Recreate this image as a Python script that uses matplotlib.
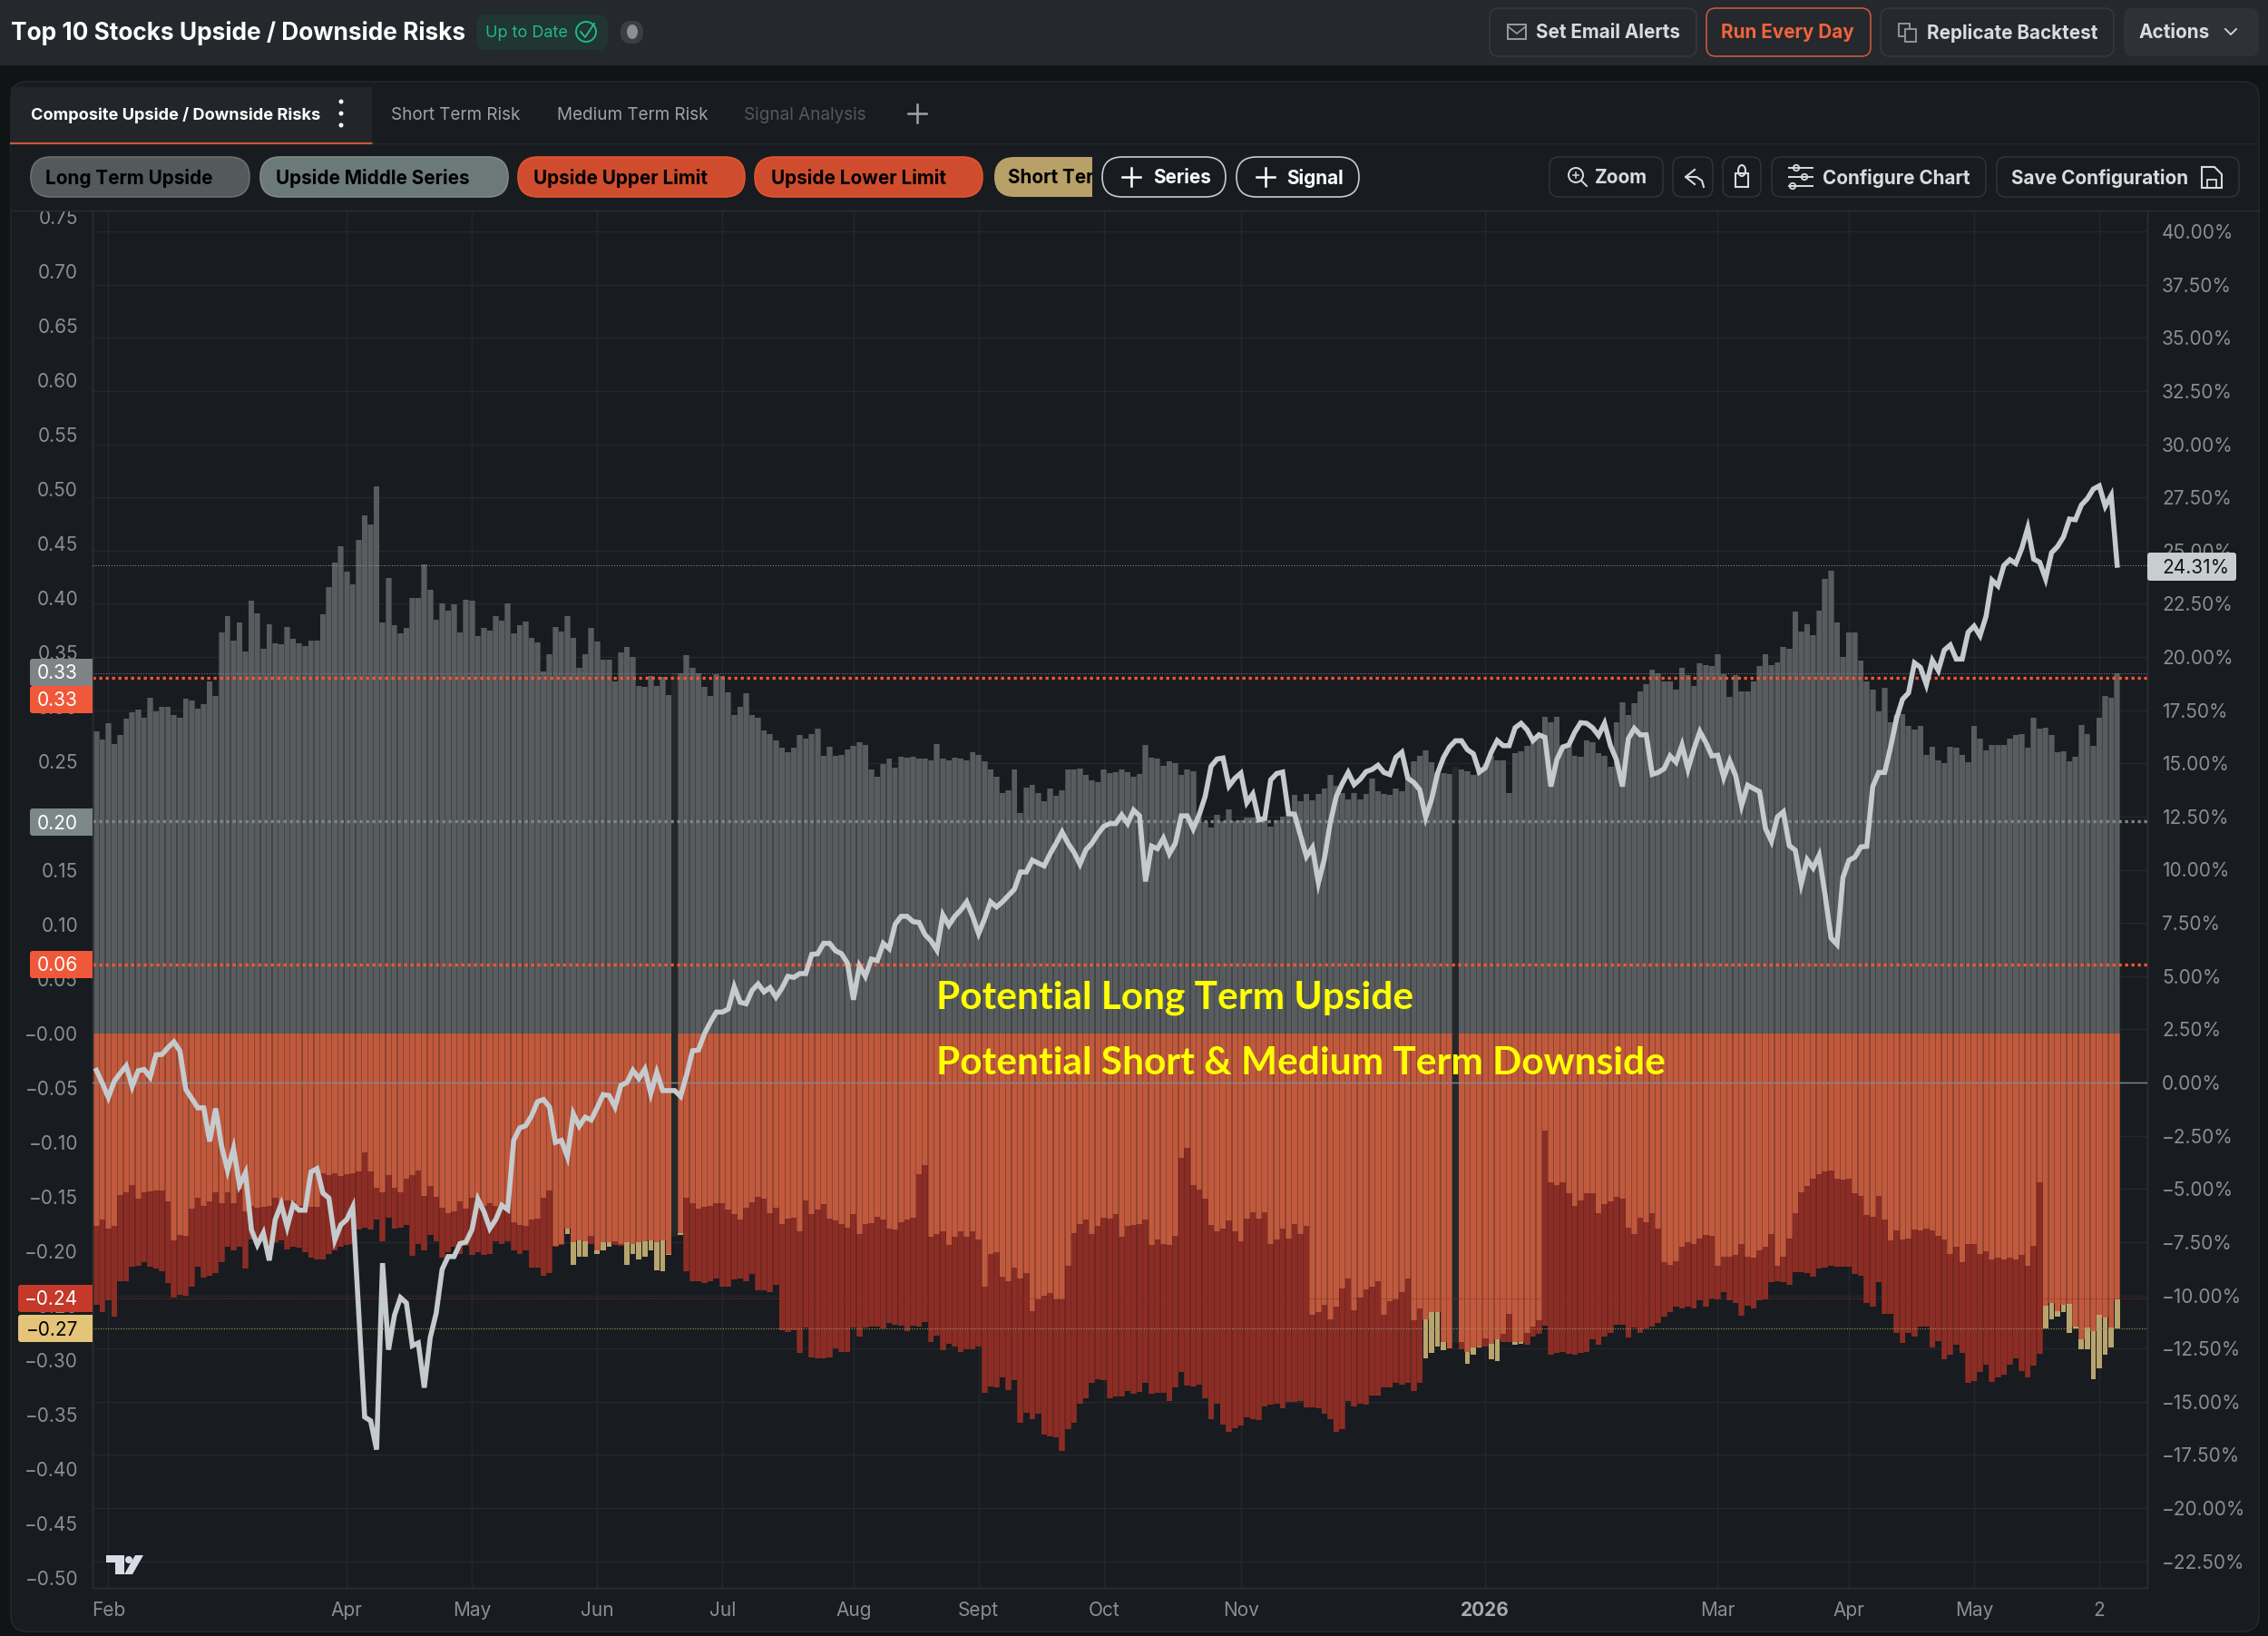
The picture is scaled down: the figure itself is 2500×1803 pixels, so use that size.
import numpy as np
import matplotlib
matplotlib.use('Agg')
import matplotlib.pyplot as plt
from matplotlib.patches import FancyBboxPatch, Rectangle, Circle, Polygon, Ellipse

plt.rcParams['font.family'] = ['Inter', 'DejaVu Sans']

# left axis, grey bars (nan = missing day)
upside_top = [
    .277,.270,.285,.266,.274,.289,.295,.297,.290,.308,.296,.300,.300,.292,.290,.307,.306,.298,.302,.323,
    .310,.368,.383,.361,.377,.351,.397,.386,.353,.376,.358,.357,.373,.362,.358,.356,.361,.361,.385,.410,
    .432,.447,.424,.412,.453,.476,.467,.502,.377,.418,.375,.367,.372,.400,.400,.431,.407,.380,.395,.388,
    .394,.368,.398,.397,.365,.372,.370,.383,.379,.395,.367,.375,.378,.363,.359,.332,.348,.373,.369,.383,
    .363,.336,.348,.372,.360,.343,.343,.323,.350,.355,.346,.319,.318,.328,.319,.327,.311,np.nan,
    .331,.347,.336,.331,.318,.310,.330,.328,
    .313,.292,.300,.312,.292,.290,.278,.275,.269,.262,.258,.262,.274,.271,.275,.280,.255,.263,.255,.256,
    .261,.264,.267,.265,.242,.236,.247,.252,.244,.254,.253,.254,.252,.252,.251,.266,.252,.251,.253,.252,
    .251,.258,.256,.250,.242,.236,.221,.223,.242,.202,.226,.228,.221,.213,.225,.218,.223,.242,.242,.243,
    .237,.232,.231,.242,.239,.240,.242,.240,.236,.238,.265,.253,.252,.246,.250,.248,.237,.242,.241,.198,
    .194,.189,.201,.195,.206,.195,.196,.198,.198,.196,.198,.190,.196,.199,.201,.219,.213,.220,.214,.220,
    .225,.237,.227,.221,.215,.221,.215,.220,.234,.222,.220,.219,.225,.222,.237,.250,.255,.260,.249,.240,
    .239,.238,np.nan,
    .242,.241,.237,.242,.247,.255,
    .251,.251,.221,.257,.259,.264,.269,.274,.291,.286,.291,.264,.264,.255,.254,.269,.267,.257,.255,.245,
    .286,.304,.292,.303,.314,.321,.334,.331,.323,.323,.316,.336,.329,.319,.340,.338,.337,.348,.330,.309,
    .329,.314,.314,.323,.337,.348,.338,.341,.355,.353,.387,.369,.376,.366,.388,.417,.425,.377,.346,.368,
    .368,.342,.323,.316,.296,.317,.286,.292,.293,.282,.279,.282,.256,.263,.251,.248,.263,.262,.256,.249,
    .282,.271,.260,.265,.265,.265,.271,.274,.275,.262,.290,.280,.281,.274,.258,.259,.250,.254,.283,.275,
    .264,.290,.310,.308,.331]

# left axis, depth where the orange bar stops
orange_depth = [
    .177,.171,.179,.177,.148,.146,.139,.152,.146,.145,.144,.144,.154,.190,.185,.186,.161,.151,.158,.154,
    .146,.156,.146,.156,.143,.163,.158,.160,.159,.158,.151,.158,.153,.154,.158,.158,.159,.159,.128,.130,
    .128,.131,.129,.128,.127,.109,.127,.142,.146,.130,.142,.146,.133,.130,.126,.149,.140,.150,.160,.165,
    .163,.154,.161,.151,.158,.158,.156,.158,.158,.157,.173,.176,.177,.171,.170,.151,.144,.195,.193,.179,
    .192,.190,.191,.186,.199,.192,.192,.191,.193,.192,.193,.192,.191,.190,.192,.190,.202,np.nan,
    .183,.151,.156,.161,.159,.158,.156,.156,
    .162,.166,.171,.160,.155,.150,.152,.165,.160,.175,.170,.169,.182,.153,.166,.162,.157,.170,.172,.175,
    .178,.166,.184,.175,.174,.168,.171,.179,.180,.173,.171,.169,.129,.121,.187,.184,.182,.194,.187,.182,
    .187,.182,.189,.232,.202,.201,.223,.227,.215,.225,.220,.255,.244,.241,.238,.244,.244,.213,.183,.175,
    .171,.184,.177,.169,.170,.166,.187,.177,.176,.175,.171,.194,.189,.193,.194,.186,.114,.105,.139,.143,
    .152,.176,.182,.179,.172,.182,.191,.170,.164,.170,.164,.193,.189,.179,.188,.175,.184,.177,.258,.256,
    .249,.262,.251,.234,.225,.254,.242,.235,.232,.227,.258,.246,.244,.237,.225,.263,.252,.262,.256,.256,
    .283,.289,np.nan,
    .283,.292,.288,.287,.280,.285,
    .281,.276,.257,.283,.283,.275,.269,.263,.089,.137,.139,.137,.147,.158,.153,.147,.147,.165,.157,.154,
    .150,.152,.178,.184,.169,.173,.165,.179,.210,.212,.209,.196,.192,.193,.188,.185,.186,.213,.205,.205,
    .203,.193,.205,.206,.199,.196,.184,.213,.205,.188,.165,.146,.140,.133,.129,.127,.126,.133,.134,.133,
    .147,.149,.167,.168,.149,.171,.190,.181,.189,.188,.180,.181,.179,.181,.186,.189,.202,.196,.210,.193,
    .193,.202,.200,.207,.206,.207,.206,.207,.203,.213,.195,.137,.250,.247,.255,.249,.248,.269,.281,.270,
    .273,.258,.261,.270,.244]

# left axis, depth where the dark red / tan part stops
lower_depth = [
    .249,.256,.245,.260,.227,.227,.214,.213,.210,.214,.216,.218,.229,.242,.240,.241,.232,.214,.224,.222,
    .220,.210,.196,.199,.196,.216,.189,.194,.188,.193,.192,.190,.198,.196,.197,.201,.206,.207,.207,.202,
    .199,.196,.194,.193,.180,.178,.180,.171,.191,.169,.179,.178,.176,.204,.193,.199,.185,.191,.206,.201,
    .196,.202,.195,.203,.201,.203,.202,.191,.193,.191,.199,.202,.199,.215,.215,.222,.220,.196,.194,.184,
    .212,.205,.205,.193,.202,.199,.196,.194,.195,.212,.202,.207,.205,.199,.217,.218,.203,np.nan,
    .185,.218,.227,.227,.229,.227,.225,.232,
    .232,.226,.225,.227,.221,.236,.236,.237,.231,.272,.274,.272,.293,.270,.297,.298,.298,.297,.289,.292,
    .292,.270,.278,.270,.269,.269,.271,.266,.267,.268,.273,.268,.269,.265,.283,.277,.291,.285,.287,.292,
    .290,.290,.287,.330,.324,.325,.316,.327,.318,.357,.348,.354,.349,.368,.370,.371,.383,.363,.357,.340,
    .335,.321,.317,.318,.335,.333,.333,.328,.331,.329,.321,.331,.330,.330,.337,.325,.311,.323,.324,.322,
    .335,.354,.340,.359,.366,.362,.360,.352,.354,.355,.342,.341,.340,.344,.338,.338,.337,.343,.343,.344,
    .349,.354,.366,.363,.337,.342,.340,.341,.332,.332,.325,.325,.321,.322,.321,.328,.321,.298,.293,.287,
    .291,.289,np.nan,
    .290,.303,.295,.288,.287,.299,
    .301,.283,.283,.286,.285,.286,.278,.276,.268,.295,.293,.292,.294,.295,.293,.292,.281,.286,.278,.275,
    .267,.267,.279,.270,.275,.271,.269,.266,.260,.256,.251,.252,.251,.252,.245,.251,.243,.244,.237,.245,
    .247,.259,.250,.252,.245,.244,.228,.227,.228,.231,.219,.219,.220,.223,.216,.215,.213,.214,.214,.214,
    .221,.222,.247,.251,.228,.257,.257,.275,.284,.275,.278,.269,.269,.288,.282,.299,.295,.286,.293,.321,
    .319,.311,.304,.320,.316,.313,.304,.298,.310,.316,.305,.294,.271,.262,.260,.256,.275,.271,.290,.290,
    .317,.307,.295,.288,.271]

# bars whose lower part is tan
tan_bars = [79,80,81,82,84,85,86,89,90,91,92,93,94,95,96,98,223,224,225,226,227,230,231,232,234,
            235,238,239] + list(range(327, 340))

# missing days, drawn as a plain dark band
gap_days = [97, 228]
gap_top = [.331, .245]
gap_low = [.187, .284]

# right axis, percent
long_term_pct = [
    .57,-.04,-.70,.06,.44,.78,-.19,.55,.61,.25,1.30,1.32,1.64,1.91,1.49,-.33,-.75,-1.19,-1.19,-2.77,
    -1.22,-3.00,-4.13,-3.10,-4.82,-4.24,-6.92,-7.63,-7.07,-8.36,-6.44,-5.72,-6.79,-5.74,-6.00,-6.00,-4.20,-4.05,-5.20,-5.43,
    -7.40,-6.69,-6.44,-5.85,-10.75,-15.72,-15.90,-17.25,-8.49,-12.56,-10.94,-10.11,-10.36,-12.37,-12.24,-14.34,-11.99,-10.84,-8.78,-8.18,
    -8.18,-7.57,-7.50,-6.92,-5.49,-6.06,-6.86,-6.44,-5.77,-5.97,-2.72,-2.14,-2.03,-1.57,-.90,-.80,-1.15,-2.81,-2.72,-3.48,
    -1.47,-2.05,-1.63,-1.76,-1.19,-.57,-.61,-1.15,-.13,0.0,.57,.19,.63,-.52,.48,-.38,-.38,-.38,-.65,.34,
    1.49,1.53,2.29,2.83,3.31,3.31,
    3.45,4.50,3.77,3.70,4.33,4.63,4.26,4.46,4.01,4.43,4.99,4.94,5.12,5.12,6.02,6.05,6.54,6.54,6.19,6.05,
    5.61,3.89,5.48,4.99,5.80,5.73,6.54,6.29,7.44,7.81,7.81,7.56,7.52,6.95,6.66,6.22,7.88,7.39,7.81,8.10,
    8.49,7.81,7.00,7.69,8.49,8.25,8.49,8.79,9.08,9.89,9.89,10.45,10.31,10.18,10.75,11.24,11.77,11.24,10.82,10.26,
    10.94,11.24,11.68,12.04,12.17,12.17,12.58,12.17,12.80,12.53,9.45,11.11,10.99,11.48,10.75,11.24,12.53,12.53,11.92,12.58,
    13.44,14.86,15.20,15.25,13.93,14.30,14.54,13.15,13.56,12.34,12.41,14.22,14.52,14.59,12.63,12.61,11.60,10.62,11.04,9.38,
    10.50,12.22,13.44,14.05,14.57,14.00,14.25,14.61,14.71,14.91,14.57,14.47,15.28,15.52,14.30,14.10,13.76,12.46,13.32,14.54,
    15.28,15.77,16.06,16.06,15.64,15.45,14.59,14.79,15.52,
    16.07,15.83,15.83,16.67,16.88,16.58,16.07,16.34,16.22,13.91,15.17,15.77,15.86,16.46,16.91,16.88,16.67,16.31,16.88,15.83,
    15.17,13.91,16.16,16.64,16.34,16.34,14.48,14.57,14.75,15.35,15.05,15.86,14.72,15.68,16.49,15.98,15.35,15.38,14.33,15.11,
    14.42,13.02,13.97,13.82,13.67,11.94,11.34,12.48,12.72,11.13,10.92,9.34,10.47,10.08,10.68,8.83,6.79,6.49,9.63,10.44,
    10.59,11.07,11.10,13.91,14.57,14.57,15.77,17.12,18.01,18.31,19.72,19.51,18.70,19.84,19.36,20.32,20.56,19.90,19.90,21.16,
    21.45,21.00,21.90,23.61,23.34,24.30,24.57,24.39,25.10,26.06,24.60,24.45,23.67,24.90,25.19,25.64,26.48,26.45,27.14,27.44,
    27.89,28.04,27.08,27.59,24.31]

month_days = [2, 42, 63, 84, 105, 127, 148, 169, 192, 233, 272, 294, 315, 336]
month_labels = ['Feb', 'Apr', 'May', 'Jun', 'Jul', 'Aug', 'Sept', 'Oct', 'Nov', '2026', 'Mar', 'Apr', 'May', '2']

left_ticks = [.75,.70,.65,.60,.55,.50,.45,.40,.35,.30,.25,.20,.15,.10,.05,0,-.05,-.10,-.15,-.20,-.25,-.30,-.35,-.40,-.45,-.50]
right_ticks = [40,37.5,35,32.5,30,27.5,25,22.5,20,17.5,15,12.5,10,7.5,5,2.5,0,-2.5,-5,-7.5,-10,-12.5,-15,-17.5,-20,-22.5]

upper_limit = .3265
lower_limit = .0633
middle_series = .195
long_term_level = .331
red_level = -.243
tan_level = -.271
last_pct = 24.31

W, H = 2500, 1803
BG = '#101415'
PANEL = '#181b1f'
HEADER = '#25282d'
PLOT_L, PLOT_R, PLOT_T, PLOT_B = 102, 2367, 232, 1750
GRID = '#24282c'
TICK = '#8b8e91'

top = np.array(upside_top)
orange = np.array(orange_depth)
lower = np.array(lower_depth)
days = np.arange(len(top))
is_tan = np.isin(days, tan_bars)

fig = plt.figure(figsize=(W / 100, H / 100), dpi=100, facecolor=BG)
pos = [PLOT_L / W, 1 - PLOT_B / H, (PLOT_R - PLOT_L) / W, (PLOT_B - PLOT_T) / H]

pitch = (2337 - 103) / len(top)
x_range = (-0.5 - 1 / pitch, -0.5 + (PLOT_R - 103) / pitch)
pct_range = ((1193 - PLOT_B) / 23.45, (1193 - PLOT_T) / 23.45)

# the horizontal grid follows the right axis but has to stay under the bars
under = fig.add_axes(pos, facecolor=PANEL, zorder=1)
under.set_xlim(x_range)
under.set_ylim(pct_range)
under.set_xticks(month_days)
under.set_yticks(right_ticks)
under.grid(color=GRID, lw=1)
under.tick_params(length=0, labelleft=False, labelbottom=False)

ax = fig.add_axes(pos, zorder=2)
ax.patch.set_visible(False)
ax2 = ax.twinx()
ax2.set_zorder(3)
ax2.patch.set_visible(False)

ax.set_xlim(x_range)
ax.set_ylim((1139 - PLOT_B) / 1200.5, (1139 - PLOT_T) / 1200.5)
ax2.set_ylim(pct_range)

# bars: a full width darker one under a narrower face gives the thin separators
ax.bar(days, top, width=1.0, color='#414548', linewidth=0, zorder=3)
ax.bar(days, top, width=0.8, color='#585c5e', linewidth=0, zorder=3)
ax.bar(days, -orange, width=1.0, color='#8f4632', linewidth=0, zorder=3)
ax.bar(days, -orange, width=0.8, color='#c1593d', linewidth=0, zorder=3)
red_height = -(lower - orange)
ax.bar(days[~is_tan], red_height[~is_tan], bottom=-orange[~is_tan], width=1.0, color='#6f2620', linewidth=0, zorder=3)
ax.bar(days[~is_tan], red_height[~is_tan], bottom=-orange[~is_tan], width=0.8, color='#8b2d25', linewidth=0, zorder=3)
ax.bar(days[is_tan], red_height[is_tan], bottom=-orange[is_tan], width=0.85, color='#b9a46e', linewidth=0, zorder=3)
ax.bar(gap_days, np.array(gap_top) + np.array(gap_low), bottom=-np.array(gap_low), width=1.0, color='#25282b', linewidth=0, zorder=3)

dots = (0, (1, 1.1))
ax.axhline(upper_limit, color='#f4562f', lw=2.4, ls=dots, zorder=4)
ax.axhline(lower_limit, color='#f4562f', lw=2.4, ls=dots, zorder=4)
ax.axhline(middle_series, color='#7b8887', lw=2.4, ls=dots, zorder=4)
ax.axhline(long_term_level, color='#8a8d90', lw=0.7, ls=(0, (1, 2)), zorder=4)
ax.axhline(red_level, color='#8e2f27', lw=0.8, ls=(0, (1, 1.5)), zorder=4)
ax.axhline(tan_level, color='#a8935f', lw=0.8, ls=(0, (1, 1.5)), zorder=4)

ax2.axhline(0, color='#85898c', lw=1.0, zorder=4)
ax2.axhline(last_pct, color='#a0a3a6', lw=0.7, ls=(0, (1, 2)), zorder=4)
ax2.plot(np.arange(len(long_term_pct)), long_term_pct, color='#c5cacd', lw=4, solid_joinstyle='miter', zorder=5)

ax.set_xticks(month_days)
ax.set_xticklabels(month_labels, fontsize=15, color=TICK)
for lab in ax.get_xticklabels():
    if lab.get_text() == '2026':
        lab.set_fontweight('bold')
        lab.set_color('#a8abae')
ax2.set_yticks(right_ticks)
ax2.set_yticklabels([('\u2212' if t < 0 else '') + '%.2f%%' % abs(t) for t in right_ticks], fontsize=15, color=TICK)
ax.set_yticks(left_ticks)
ax.set_yticklabels([('\u2212' if t <= 0 else '') + '%.2f' % abs(t) for t in left_ticks], fontsize=15, color=TICK)
ax.tick_params(axis='both', length=0)
ax.tick_params(axis='y', pad=11.5)
ax.tick_params(axis='x', pad=10.5)
ax2.tick_params(axis='y', length=0, pad=11.5)
for a in (under, ax, ax2):
    for s in a.spines.values():
        s.set_color('#2a2e32')
        s.set_linewidth(1)

# everything around the chart is drawn on a pixel sized overlay
bg = fig.add_axes([0, 0, 1, 1], zorder=0)
bg.set_xlim(0, W)
bg.set_ylim(H, 0)
bg.axis('off')
ui = fig.add_axes([0, 0, 1, 1], zorder=5)
ui.set_xlim(0, W)
ui.set_ylim(H, 0)
ui.axis('off')


def box(a, x0, y0, x1, y1, fc, ec='none', r=10, lw=1.2):
    p = FancyBboxPatch((x0, y0), x1 - x0, y1 - y0, boxstyle='round,pad=0,rounding_size=%d' % r, fc=fc, ec=ec, lw=lw)
    a.add_patch(p)
    return p


def plus(x, y, s, color, lw=1.8):
    ui.plot([x - s, x + s], [y, y], color=color, lw=lw)
    ui.plot([x, x], [y - s, y + s], color=color, lw=lw)


def txt(x, y, s, color=None, size=14.9, bold=True, **kw):
    return ui.text(x, y + 1.5, s, color=color, fontsize=size, fontweight='bold' if bold else 'normal', va='center', **kw)


bg.add_patch(Rectangle((0, 0), W, 72, fc=HEADER))
box(bg, 12, 90, 2490, 1798, PANEL, '#24282c', 18)

# chart top edge cuts the 0.75 label
ui.add_patch(Rectangle((12, 160), 2476, 72, fc=PANEL))
ui.plot([12, 2490], [232, 232], color='#2a2e32', lw=1)

txt(12, 35, 'Top 10 Stocks Upside / Downside Risks', 'white', size=18.9)
box(ui, 525, 16, 670, 55, '#213532', r=10)
txt(535, 35, 'Up to Date', '#1fb98a', size=13, bold=False)
ui.add_patch(Circle((646, 35), 11, fc='none', ec='#1fb98a', lw=1.4))
ui.plot([640, 645, 655], [35, 41, 26], color='#1fb98a', lw=1.4)
box(ui, 684, 23, 709, 48, '#3b3f44', r=12)
ui.add_patch(Ellipse((697, 35), 12, 16, fc='#8c9094'))

TXT = '#d9dbdd'
box(ui, 1642, 9, 1870, 62, 'none', '#34383d', 10)
ui.add_patch(Rectangle((1662, 27), 20, 16, fc='none', ec='#9a9da0', lw=1.4))
ui.plot([1662, 1672, 1682], [29, 37, 29], color='#9a9da0', lw=1.2)
txt(1693, 35, 'Set Email Alerts', TXT)
box(ui, 1881, 9, 2062, 62, 'none', '#c8593a', 10)
txt(1897, 35, 'Run Every Day', '#f0643c')
box(ui, 2073, 9, 2330, 62, 'none', '#34383d', 10)
ui.add_patch(Rectangle((2093, 26), 12, 14, fc='none', ec='#9a9da0', lw=1.3))
ui.add_patch(Rectangle((2100, 32), 12, 14, fc=HEADER, ec='#9a9da0', lw=1.3))
txt(2124, 35, 'Replicate Backtest', TXT)
box(ui, 2341, 9, 2490, 62, '#2e3238', r=10)
txt(2358, 35, 'Actions', TXT)
ui.plot([2453, 2459, 2465], [32, 38, 32], color=TXT, lw=1.3)

# tabs
bg.add_patch(Rectangle((12, 96), 398, 62, fc='#22262a'))
ui.plot([12, 410], [158, 158], color='#c8593a', lw=1.6)
ui.plot([410, 2490], [158, 158], color='#24282c', lw=1)
txt(34, 125, 'Composite Upside / Downside Risks', 'white', size=13.1)
for yy in (112, 125, 138):
    ui.add_patch(Circle((376, yy), 2.5, fc='white'))
txt(431, 125, 'Short Term Risk', '#a0a3a6', size=13.6, bold=False)
txt(614, 125, 'Medium Term Risk', '#a0a3a6', size=13.6, bold=False)
txt(820, 125, 'Signal Analysis', '#55585c', size=13.6, bold=False)
plus(1011, 125, 10, '#a0a3a6')

# series chips
box(ui, 34, 173, 275, 217, '#54595b', '#6a6f71', 22)
txt(50, 195, 'Long Term Upside', 'black')
box(ui, 287, 173, 560, 217, '#6b7a78', '#7d8c8a', 22)
txt(304, 195, 'Upside Middle Series', 'black')
box(ui, 571, 173, 821, 217, '#cf4d2e', '#e0552f', 22)
txt(588, 195, 'Upside Upper Limit', 'black')
box(ui, 832, 173, 1083, 217, '#cf4d2e', '#e0552f', 22)
txt(850, 195, 'Upside Lower Limit', 'black')
clip = Rectangle((1090, 165), 114, 60, transform=ui.transData)
chip = box(ui, 1096, 173, 1280, 217, '#b8a169', r=22)
chip.set_clip_path(clip)
t = txt(1111, 195, 'Short Term Risk', 'black')
t.set_clip_on(True)
t.set_clip_path(clip)
box(ui, 1215, 173, 1351, 217, 'none', '#c9cccf', 22)
plus(1247, 195, 10, 'white')
txt(1271, 195, 'Series', 'white')
box(ui, 1363, 173, 1498, 217, 'none', '#c9cccf', 22)
plus(1395, 195, 10, 'white')
txt(1418, 195, 'Signal', 'white')

# chart toolbar
box(ui, 1708, 173, 1833, 217, 'none', '#2e3237', 10)
ui.add_patch(Circle((1737, 193), 8, fc='none', ec=TXT, lw=1.4))
ui.plot([1743, 1749], [199, 205], color=TXT, lw=1.4)
plus(1737, 193, 3, TXT, 1.1)
txt(1758, 195, 'Zoom', TXT)
box(ui, 1844, 173, 1888, 217, 'none', '#2e3237', 10)
ui.plot([1868, 1858, 1868], [187, 195, 203], color=TXT, lw=1.5)
ui.plot([1858, 1870, 1876, 1878], [195, 195, 199, 206], color=TXT, lw=1.5)
box(ui, 1899, 173, 1941, 217, 'none', '#2e3237', 10)
ui.add_patch(Rectangle((1913, 191), 14, 15, fc='none', ec=TXT, lw=1.5))
ui.add_patch(Ellipse((1920, 188), 8, 12, fc='none', ec=TXT, lw=1.5))
box(ui, 1953, 173, 2189, 217, 'none', '#2e3237', 10)
for yy, xx in ((185, 1980), (195, 1989), (205, 1976)):
    ui.plot([1972, 1998], [yy, yy], color=TXT, lw=1.4)
    ui.add_patch(Circle((xx, yy), 3.2, fc=PANEL, ec=TXT, lw=1.3))
txt(2009, 195, 'Configure Chart', TXT)
box(ui, 2201, 173, 2468, 217, 'none', '#2e3237', 10)
txt(2217, 195, 'Save Configuration', TXT)
ui.add_patch(Polygon([(2427, 184), (2441, 184), (2449, 192), (2449, 207), (2427, 207)], closed=True, fc='none', ec=TXT, lw=1.5))
ui.add_patch(Rectangle((2433, 198), 10, 9, fc='none', ec=TXT, lw=1.3))

# value tags on the axes
def tag(x0, x1, yc, fc, label, color='white'):
    box(ui, x0, yc - 15, x1, yc + 15, fc, r=3)
    ui.add_patch(Rectangle((x1 - 6, yc - 15), 6, 30, fc=fc))
    txt(86, yc, label, color, size=15, bold=False, ha='right')


tag(33, 102, 741, '#7f8385', '0.33')
tag(33, 102, 771, '#f0583a', '0.33')
tag(33, 102, 906, '#7b8887', '0.20')
tag(33, 102, 1063, '#f0583a', '0.06')
tag(20, 102, 1431, '#c4392a', '\u22120.24')
tag(20, 102, 1464, '#e3c478', '\u22120.27', 'black')
box(ui, 2367, 609, 2465, 640, '#c8cdd0', r=3)
txt(2383, 624.5, '24.31%', '#15181b', size=15, bold=False)

# yellow notes
txt(1032, 1098, 'Potential Long Term Upside', '#ffff00', size=30.5, family='Lato')
txt(1032, 1171, 'Potential Short & Medium Term Downside', '#ffff00', size=30.5, family='Lato')

# tradingview mark
LOGO = '#d9dbe6'
ui.add_patch(Polygon([(117, 1714), (137, 1714), (137, 1735), (127, 1735), (127, 1722), (117, 1722)], closed=True, fc=LOGO))
ui.add_patch(Circle((142, 1719), 4, fc=LOGO))
ui.add_patch(Polygon([(149, 1714), (158, 1714), (146, 1735), (137, 1735)], closed=True, fc=LOGO))

fig.savefig('out.png', dpi=100, facecolor=BG)
